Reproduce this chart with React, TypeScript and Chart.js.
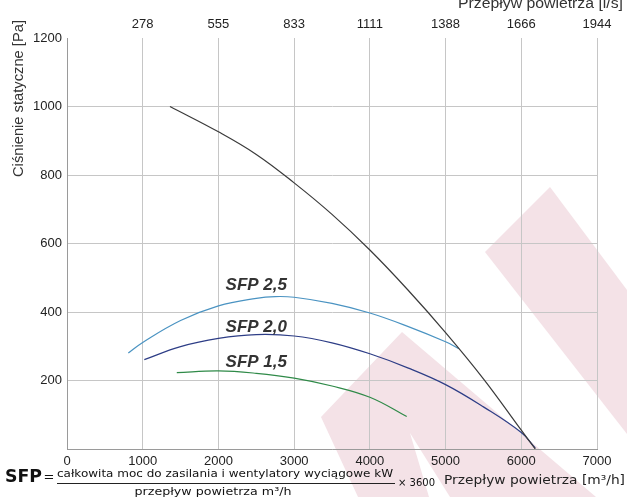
import { useEffect, useRef } from "react";
import { Chart, registerables } from "chart.js";

Chart.register(...registerables);

// Air flow in m³/h on the bottom axis, same ticks re-labelled in l/s on top
const litrePerSecondLabels = ["278", "555", "833", "1111", "1388", "1666", "1944"];

// Fan characteristic (static pressure vs. flow)
const fanFlow = [1360, 2000, 2500, 3000, 3500, 4000, 4500, 5000, 5500, 6000, 6185];
const fanPressure = [1000, 926, 860, 777, 685, 581, 465, 340, 205, 55, 0];

// SFP iso-lines
const sfp25Flow = [810, 1000, 1500, 2000, 2500, 2750, 3000, 3500, 4000, 4500, 5000, 5174];
const sfp25Pressure = [280, 311, 375, 418, 440, 445, 443, 425, 397, 358, 313, 293];

const sfp20Flow = [1021, 1500, 2000, 2500, 3000, 3500, 4000, 4500, 5000, 5500, 6000, 6185];
const sfp20Pressure = [261, 299, 323, 334, 330, 310, 278, 237, 188, 123, 48, 3];

const sfp15Flow = [1450, 2000, 2500, 3000, 3500, 4000, 4487];
const sfp15Pressure = [223, 228, 221, 207, 184, 151, 95];

const curveLabels = ["SFP 2,5", "SFP 2,0", "SFP 1,5"];
const curveLabelFlow = [2500, 2500, 2500];
const curveLabelPressure = [478, 356, 253];

const toPoints = (xs: number[], ys: number[]) => xs.map((x, i) => ({ x, y: ys[i] }));

const SANS = "'Liberation Sans', Arial, sans-serif";
const VERD = "'DejaVu Sans', Verdana, sans-serif";

function fitText(
  ctx: CanvasRenderingContext2D,
  text: string,
  x: number,
  y: number,
  width: number,
  align: CanvasTextAlign
) {
  const w = ctx.measureText(text).width;
  const s = width / w;
  ctx.save();
  ctx.translate(x, y);
  ctx.scale(s, 1);
  ctx.textAlign = align;
  ctx.fillText(text, 0, 0);
  ctx.restore();
}

const decorPlugin = {
  id: "decor",
  beforeDraw(chart: any) {
    const ctx: CanvasRenderingContext2D = chart.ctx;
    ctx.save();
    ctx.fillStyle = "#ffffff";
    ctx.fillRect(0, 0, chart.width, chart.height);
    // faint logo stripes in the background
    ctx.fillStyle = "rgb(244,226,231)";
    ctx.beginPath();
    ctx.moveTo(485, 252);
    ctx.lineTo(550, 187);
    ctx.lineTo(627, 290);
    ctx.lineTo(627, 434);
    ctx.closePath();
    ctx.fill();
    ctx.beginPath();
    ctx.moveTo(321, 417);
    ctx.lineTo(402, 332);
    ctx.lineTo(596, 497);
    ctx.lineTo(450, 497);
    ctx.lineTo(410, 433);
    ctx.lineTo(429, 497);
    ctx.lineTo(358, 497);
    ctx.closePath();
    ctx.fill();
    ctx.restore();
  },
  afterDraw(chart: any) {
    const ctx: CanvasRenderingContext2D = chart.ctx;
    const xs = chart.scales.x;
    const ys = chart.scales.y;
    ctx.save();

    // curve labels
    ctx.fillStyle = "#333333";
    ctx.font = `italic bold 17px ${SANS}`;
    ctx.textAlign = "center";
    ctx.textBaseline = "middle";
    curveLabels.forEach((t, i) => {
      ctx.fillText(t, xs.getPixelForValue(curveLabelFlow[i]), ys.getPixelForValue(curveLabelPressure[i]));
    });

    // y axis title, anchored at the top
    ctx.fillStyle = "#333333";
    ctx.font = `14px ${SANS}`;
    ctx.save();
    ctx.translate(19, 20);
    ctx.rotate(-Math.PI / 2);
    ctx.textBaseline = "middle";
    fitText(ctx, "Ciśnienie statyczne [Pa]", 0, 0, 157, "right");
    ctx.restore();

    // top axis title
    ctx.textBaseline = "alphabetic";
    ctx.font = `14px ${SANS}`;
    fitText(ctx, "Przepływ powietrza [l/s]", 623, 8, 165, "right");

    // SFP formula
    ctx.fillStyle = "#111111";
    ctx.textBaseline = "middle";
    ctx.font = `bold 18px ${VERD}`;
    fitText(ctx, "SFP", 5, 477, 37, "left");
    ctx.font = `13px ${VERD}`;
    ctx.textAlign = "center";
    ctx.fillText("=", 49, 478);
    ctx.font = `11px ${VERD}`;
    fitText(ctx, "całkowita moc do zasilania i wentylatory wyciągowe kW", 57, 474, 336, "left");
    ctx.strokeStyle = "#222222";
    ctx.lineWidth = 1;
    ctx.beginPath();
    ctx.moveTo(57, 483.5);
    ctx.lineTo(395, 483.5);
    ctx.stroke();
    fitText(ctx, "przepływ powietrza m³/h", 213, 492, 157, "center");
    ctx.font = `10px ${VERD}`;
    fitText(ctx, "× 3600", 398, 483, 37, "left");

    // bottom axis title
    ctx.fillStyle = "#222222";
    ctx.font = `13px ${VERD}`;
    fitText(ctx, "Przepływ powietrza [m³/h]", 444, 481, 181, "left");

    ctx.restore();
  },
};

export default function App() {
  const canvasRef = useRef<HTMLCanvasElement | null>(null);

  useEffect(() => {
    const canvas = canvasRef.current;
    if (!canvas) return;
    const lineBase = {
      showLine: true,
      pointRadius: 0,
      borderWidth: 1.2,
      tension: 0.4,
      fill: false,
    };
    const chart = new Chart(canvas, {
      type: "scatter",
      data: {
        datasets: [
          { ...lineBase, data: toPoints(fanFlow, fanPressure), borderColor: "#3a3a3a" },
          { ...lineBase, data: toPoints(sfp25Flow, sfp25Pressure), borderColor: "#4a93c2" },
          { ...lineBase, data: toPoints(sfp20Flow, sfp20Pressure), borderColor: "#2d3d86" },
          { ...lineBase, data: toPoints(sfp15Flow, sfp15Pressure), borderColor: "#2f8a48" },
        ],
      },
      options: {
        responsive: false,
        animation: false,
        layout: { padding: { left: 0, right: 30, top: 0, bottom: 0 } },
        plugins: { legend: { display: false }, tooltip: { enabled: false } },
        scales: {
          x: {
            type: "linear",
            position: "bottom",
            min: 0,
            max: 7000,
            afterFit: (s: any) => {
              s.height = 48;
            },
            ticks: {
              stepSize: 1000,
              padding: 5,
              color: "#222222",
              font: { family: SANS, size: 13 },
              callback: (v: any) => String(v),
            },
            grid: { color: "#c6c6c6", drawTicks: false, lineWidth: 1 },
            border: { color: "#9a9a9a" },
          },
          x2: {
            type: "linear",
            position: "top",
            min: 0,
            max: 7000,
            afterFit: (s: any) => {
              s.height = 38;
            },
            ticks: {
              stepSize: 1000,
              padding: 6,
              color: "#222222",
              font: { family: SANS, size: 13 },
              callback: (v: any) => {
                const i = Math.round(Number(v) / 1000) - 1;
                return i >= 0 ? litrePerSecondLabels[i] : "";
              },
            },
            grid: { display: false, drawTicks: false },
            border: { display: false },
          },
          y: {
            type: "linear",
            min: 0,
            max: 1200,
            afterFit: (s: any) => {
              s.width = 67;
            },
            ticks: {
              stepSize: 200,
              padding: 5,
              color: "#222222",
              font: { family: SANS, size: 13 },
              callback: (v: any) => (Number(v) === 0 ? "" : String(v)),
            },
            grid: {
              drawTicks: false,
              lineWidth: 1,
              color: (c: any) => (c.tick && c.tick.value === 1200 ? "rgba(0,0,0,0)" : "#c6c6c6"),
            },
            border: { color: "#9a9a9a" },
          },
        },
      },
      plugins: [decorPlugin],
    });
    return () => chart.destroy();
  }, []);

  return (
    <div style={{ position: "absolute", left: 0, top: 0, width: 627, height: 497 }}>
      <canvas ref={canvasRef} width={627} height={497} />
    </div>
  );
}
